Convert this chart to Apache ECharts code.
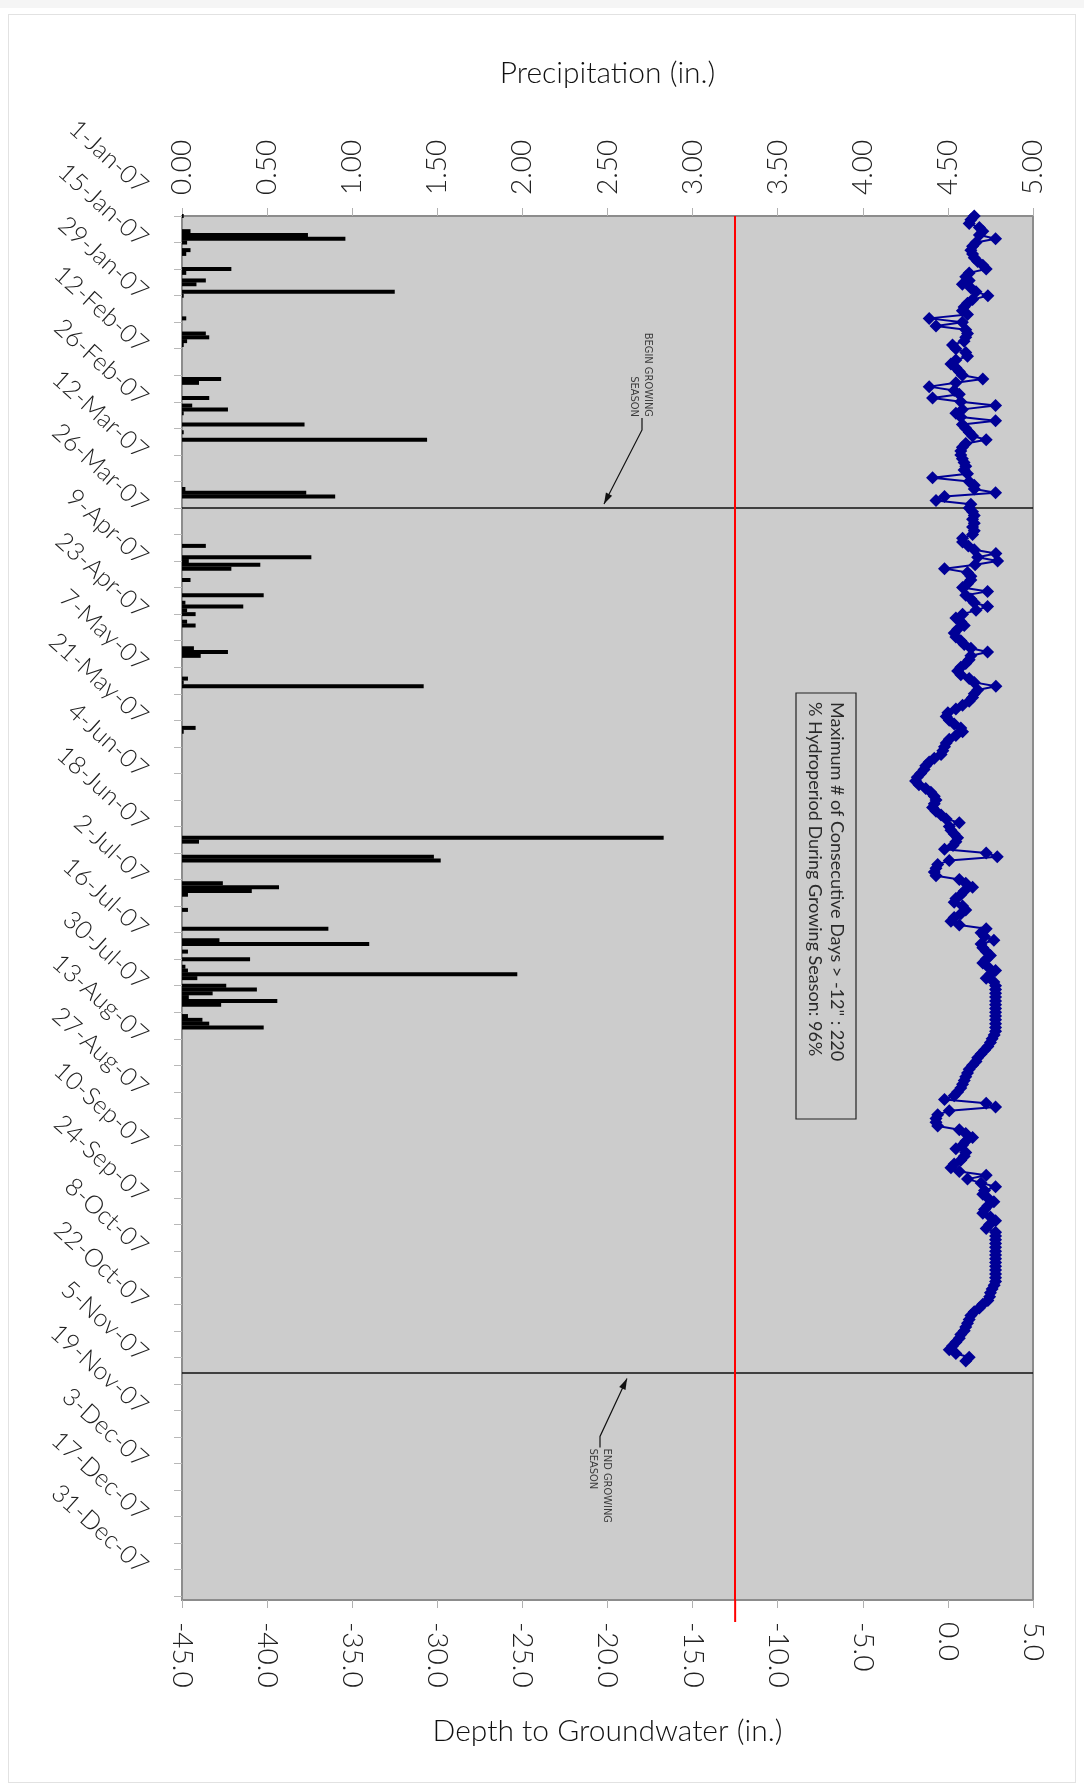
<!DOCTYPE html>
<html>
<head>
<meta charset="utf-8">
<script src="https://cdn.jsdelivr.net/npm/echarts/dist/echarts.min.js"></script>
<style>
html,body{margin:0;padding:0;background:#fff;}
#topstrip{position:absolute;left:0;top:0;width:1084px;height:8px;background:#f5f5f5;}
#frame{position:absolute;left:8px;top:14px;width:1068px;height:1769px;border:1px solid #e2e2e2;box-sizing:border-box;}
#chart{position:absolute;left:0;top:0;width:1084px;height:1785px;}
</style>
</head>
<body>
<div id="topstrip"></div>
<div id="frame"></div>
<div id="chart"></div>
<script>
// ---------- DATA ----------
// date tick labels (every 14 days starting 1-Jan-07)
const dateLabels = ['1-Jan-07','15-Jan-07','29-Jan-07','12-Feb-07','26-Feb-07','12-Mar-07','26-Mar-07',
  '9-Apr-07','23-Apr-07','7-May-07','21-May-07','4-Jun-07','18-Jun-07','2-Jul-07','16-Jul-07',
  '30-Jul-07','13-Aug-07','27-Aug-07','10-Sep-07','24-Sep-07','8-Oct-07','22-Oct-07','5-Nov-07',
  '19-Nov-07','3-Dec-07','17-Dec-07','31-Dec-07'];
const precipTicks = [0,0.5,1,1.5,2,2.5,3,3.5,4,4.5,5];
const depthTicks = [-45,-40,-35,-30,-25,-20,-15,-10,-5,0,5];

// precipitation: day of year (0 = 1-Jan-07) and inches
const precipDays = [0,4,5,6,7,9,10,14,15,17,18,20,21,27,31,32,33,34,43,44,48,50,51,52,55,57,59,72,73,74,
  87,90,91,92,93,96,100,102,103,104,105,107,108,114,115,116,122,123,124,135,136,
  164,165,169,170,176,177,178,179,183,188,191,192,194,196,198,199,200,201,203,204,205,206,207,208,211,212,213,214];
const precipValues = [0.01,0.05,0.74,0.96,0.03,0.05,0.025,0.29,0.025,0.14,0.085,1.25,0.01,0.025,0.14,0.16,0.03,0.01,0.23,0.1,0.16,0.06,0.27,0.01,0.72,0.01,1.44,0.02,0.73,0.9,
  0.14,0.76,0.04,0.46,0.29,0.05,0.48,0.02,0.36,0.03,0.08,0.03,0.08,0.07,0.27,0.11,0.035,0.01,1.42,0.08,0.01,
  2.83,0.1,1.48,1.52,0.24,0.57,0.41,0.035,0.035,0.86,0.22,1.1,0.035,0.40,0.02,0.035,1.97,0.09,0.26,0.44,0.18,0.04,0.56,0.23,0.035,0.12,0.16,0.48];

// depth to groundwater (in.), daily from 1-Jan-07
const depthValues = [
  1.55,1.35,1.25,1.85,2.05,1.85,2.8,1.65,1.45,1.35,
  1.45,1.55,1.75,2.05,2.25,1.25,1.05,1.25,0.85,1.35,
  1.65,2.35,1.45,1.15,0.95,0.85,1.15,-1.1,0.85,-0.7,
  1.05,1.15,1.05,0.95,0.27,0.47,1.05,1.15,0.47,0.18,
  0.47,0.67,0.85,2.05,0.47,-1.1,0.37,0.67,-0.9,0.76,
  2.8,0.85,0.47,0.76,2.8,0.85,1.05,1.25,1.45,2.25,
  1.05,0.85,0.76,0.76,0.85,0.95,1.05,0.95,1.15,-0.9,
  1.25,1.55,1.55,2.8,-0.2,-0.7,1.35,1.25,1.45,1.55,
  1.45,1.55,1.45,1.55,1.45,0.86,0.86,1.2,1.55,2.82,
  1.75,2.92,1.6,-0.2,1.15,1.35,1.35,1.15,0.86,2.33,
  1.05,1.35,1.55,2.33,1.65,0.86,0.47,0.76,0.96,0.57,
  0.37,0.47,0.76,0.96,1.35,2.33,1.35,1.25,1.05,0.76,
  0.57,0.76,1.25,1.55,2.82,1.75,1.55,1.45,1.25,0.86,
  0.47,0,-0.1,0.08,0.37,0.76,0.86,0.47,0.08,-0.1,
  -0.2,-0.3,-0.4,-0.8,-1.1,-1.3,-1.4,-1.6,-1.8,-1.9,
  -1.7,-1.3,-1.0,-0.8,-0.7,-0.8,-0.9,-0.7,-0.4,-0.1,
  0.67,0.08,0.18,0.37,0.57,0.47,0.3,-0.2,2.25,2.9,
  0.08,-0.6,-0.7,-0.8,-0.7,0.67,1.05,1.45,0.96,0.76,
  0.47,0.37,0.86,1.05,0.76,0.37,0.18,0.67,2.25,1.95,
  2.15,2.7,1.95,2.05,2.25,2.5,2.25,2.05,2.35,2.8,
  2.5,2.25,2.7,2.8,2.8,2.8,2.8,2.8,2.8,2.8,
  2.8,2.8,2.8,2.8,2.8,2.8,2.72,2.6,2.5,2.35,
  2.15,1.95,1.75,1.65,1.45,1.25,1.15,1.05,0.96,0.86,
  0.76,0.57,0.37,-0.2,2.25,2.8,0.08,-0.6,-0.7,-0.7,
  -0.6,0.67,1.05,1.45,1.05,0.86,0.47,1.05,0.96,0.76,
  0.37,0.18,0.67,2.25,1.15,1.95,2.8,2.15,2.05,2.35,
  2.7,2.35,2.15,2.05,2.5,2.8,2.45,2.25,2.8,2.8,
  2.8,2.8,2.8,2.8,2.8,2.8,2.8,2.8,2.8,2.8,
  2.8,2.8,2.72,2.6,2.5,2.45,2.35,2.05,1.85,1.55,
  1.35,1.25,1.15,1.05,0.96,0.76,0.67,0.47,0.27,0.08,
  0.47,1.25,1.05
];

const thresholdDepth = -12.5;      // red criterion line
const seasonStartDay = 77;          // 19-Mar-07
const seasonEndDay = 305;           // 2-Nov-07
const totalDays = 365;
const boxLines = ['Maximum # of Consecutive Days > -12" : 220', '% Hydroperiod During Growing Season: 96%'];

// ---------- BUILD ----------
const dayCategories = [];
for (let i = 0; i <= totalDays; i++) dayCategories.push(String(i));
const precipSeries = dayCategories.map(() => null);
precipDays.forEach((d, i) => { precipSeries[d] = precipValues[i]; });

const FONT = "Lato, 'Liberation Sans', sans-serif";
const NARROW = "'Liberation Sans Narrow', 'DejaVu Sans Condensed', 'Liberation Sans', sans-serif";
const AXIS_GREY = '#8c8c8c';
const TXT = '#222';

const chart = echarts.init(document.getElementById('chart'), null, {renderer: 'canvas'});
const option = {
  animation: false,
  grid: {left: 182, top: 216, width: 851, height: 1384, show: true,
         backgroundColor: '#cccccc', borderColor: AXIS_GREY, borderWidth: 2},
  xAxis: [
    {type: 'value', position: 'top', min: precipTicks[0], max: precipTicks[precipTicks.length - 1], interval: 0.5,
     name: 'Precipitation (in.)', nameLocation: 'middle', nameGap: 128,
     nameTextStyle: {fontFamily: FONT, fontWeight: 300, fontSize: 30, color: '#111'},
     axisLine: {show: true, lineStyle: {color: AXIS_GREY, width: 2}},
     axisTick: {show: true, length: 8, lineStyle: {color: '#b0b0b0'}},
     splitLine: {show: false},
     axisLabel: {rotate: -90, margin: 21, fontFamily: FONT, fontWeight: 300, fontSize: 28, color: TXT,
                 formatter: v => v.toFixed(2)}},
    {type: 'value', position: 'bottom', min: depthTicks[0], max: depthTicks[depthTicks.length - 1], interval: 5,
     name: 'Depth to Groundwater (in.)', nameLocation: 'middle', nameGap: 116,
     nameTextStyle: {fontFamily: FONT, fontWeight: 300, fontSize: 30, color: '#111'},
     axisLine: {show: true, lineStyle: {color: AXIS_GREY, width: 2}},
     axisTick: {show: true, length: 8, lineStyle: {color: '#b0b0b0'}},
     splitLine: {show: false},
     axisLabel: {rotate: -90, margin: 22, fontFamily: FONT, fontWeight: 300, fontSize: 28, color: TXT,
                 formatter: v => v.toFixed(1)}}
  ],
  yAxis: {
    type: 'category', inverse: true, boundaryGap: false, data: dayCategories,
    axisLine: {show: true, lineStyle: {color: AXIS_GREY, width: 2}},
    axisTick: {show: true, interval: 6, length: 8, lineStyle: {color: '#b8b8b8'}},
    splitLine: {show: false},
    axisLabel: {interval: 13, rotate: -42, margin: 8, fontFamily: FONT, fontWeight: 300, fontSize: 25, color: TXT,
                padding: [0, 40, 0, 0],
                formatter: (v, i) => dateLabels[Math.round(i / 14)] || ''}
  },
  series: [
    {type: 'bar', name: 'Precipitation', xAxisIndex: 0, yAxisIndex: 0, data: precipSeries,
     barWidth: 4, itemStyle: {color: '#000'}, z: 3,
     markLine: {silent: true, symbol: 'none', label: {show: false},
                lineStyle: {color: '#111', width: 1.5, type: 'solid'},
                data: [{yAxis: String(seasonStartDay)}, {yAxis: String(seasonEndDay)}]}},
    {type: 'line', name: 'Depth to Groundwater', xAxisIndex: 1, yAxisIndex: 0, data: depthValues,
     symbol: 'diamond', symbolSize: 13, showAllSymbol: true,
     itemStyle: {color: '#000096'}, lineStyle: {color: '#000096', width: 2}, z: 5,
     markLine: {silent: true, symbol: 'none', label: {show: false},
                lineStyle: {color: '#ff0000', width: 2, type: 'solid'},
                data: [{xAxis: thresholdDepth}]}}
  ]
};
chart.setOption(option);

// ---------- ANNOTATIONS (positioned from the axes) ----------
function arrowHead(x0, y0, x1, y1, len, half) {
  const dx = x1 - x0, dy = y1 - y0, L = Math.hypot(dx, dy), ux = dx / L, uy = dy / L;
  const bx = x1 - ux * len, by = y1 - uy * len;
  return [[x1, y1], [bx - uy * half, by + ux * half], [bx + uy * half, by - ux * half]];
}
const yB = chart.convertToPixel({yAxisIndex: 0}, String(seasonStartDay));
const yE = chart.convertToPixel({yAxisIndex: 0}, String(seasonEndDay));
const xRed = chart.convertToPixel({xAxisIndex: 1}, thresholdDepth);
const gridBottom = 216 + 1384;

const bTip = [604, yB - 4], bCorner = [642, yB - 78], bTop = [642, yB - 90];
const eTip = [627, yE + 6], eCorner = [600, yE + 64], eBot = [600, yE + 75];

chart.setOption({
  graphic: [
    {type: 'line', shape: {x1: xRed, y1: gridBottom, x2: xRed, y2: gridBottom + 22},
     style: {stroke: '#ff0000', lineWidth: 2}, z: 10},
    // begin growing season
    {type: 'text', x: 641, y: yB - 91, rotation: -Math.PI / 2,
     style: {text: 'BEGIN GROWING\nSEASON', fill: '#3a3a3a', fontFamily: NARROW, fontSize: 11,
             align: 'right', verticalAlign: 'middle', lineHeight: 14}, z: 10},
    {type: 'polyline', shape: {points: [bTop, bCorner, bTip]}, style: {stroke: '#111', lineWidth: 1.2, fill: null}, z: 10},
    {type: 'polygon', shape: {points: arrowHead(bCorner[0], bCorner[1], bTip[0], bTip[1], 11, 3.5)}, style: {fill: '#111'}, z: 10},
    // end growing season
    {type: 'text', x: 600, y: yE + 76, rotation: -Math.PI / 2,
     style: {text: 'END GROWING\nSEASON', fill: '#3a3a3a', fontFamily: NARROW, fontSize: 11,
             align: 'left', verticalAlign: 'middle', lineHeight: 14}, z: 10},
    {type: 'polyline', shape: {points: [eBot, eCorner, eTip]}, style: {stroke: '#111', lineWidth: 1.2, fill: null}, z: 10},
    {type: 'polygon', shape: {points: arrowHead(eCorner[0], eCorner[1], eTip[0], eTip[1], 11, 3.5)}, style: {fill: '#111'}, z: 10},
    // statistics box
    {type: 'rect', shape: {x: 796, y: 693, width: 60, height: 426},
     style: {fill: null, stroke: '#222', lineWidth: 1.2}, z: 10},
    {type: 'text', x: 826, y: 702, rotation: -Math.PI / 2,
     style: {text: boxLines.join('\n'), fill: '#2a2a2a', fontFamily: FONT, fontSize: 18,
             align: 'left', verticalAlign: 'middle', lineHeight: 22}, z: 10}
  ]
});
</script>
</body>
</html>
